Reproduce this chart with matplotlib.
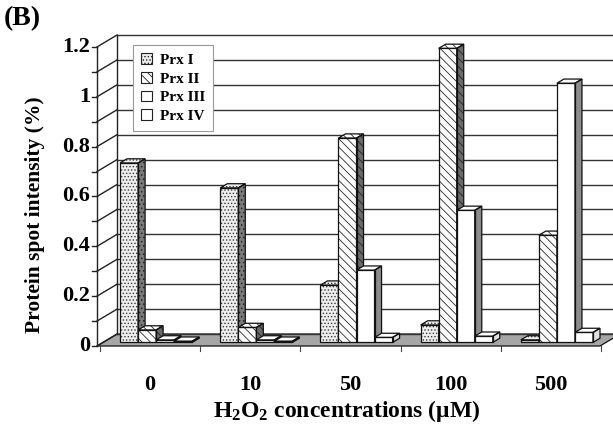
import matplotlib.pyplot as plt
from matplotlib.patches import Polygon, Patch

# data
concentrations = ['0', '10', '50', '100', '500']
series_names = ['Prx I', 'Prx II', 'Prx III', 'Prx IV']
prx1 = [0.72, 0.62, 0.23, 0.07, 0.01]
prx2 = [0.05, 0.06, 0.82, 1.18, 0.43]
prx3 = [0.01, 0.01, 0.29, 0.53, 1.04]
prx4 = [0.005, 0.005, 0.02, 0.025, 0.04]
yticks = [0, 0.2, 0.4, 0.6, 0.8, 1.0, 1.2]
ytick_labels = ['0', '0.2', '0.4', '0.6', '0.8', '1', '1.2']

series = [prx1, prx2, prx3, prx4]

# styles: (front face, hatch, side face, side hatch, hatch colour)
styles = [
    ('#eeeeee', '.....', '#7a7a7a', '....', '#3a3a3a'),
    ('#ffffff', '\\\\\\\\', '#6a6a6a', '\\\\\\\\', '#2a2a2a'),
    ('#ffffff', '', '#8c8c8c', '', '#cccccc'),
    ('#ffffff', '', '#e0e0e0', '', '#999999'),
]

# fake 3d depth (oblique projection), in data units
DX = 0.2
DY = 0.048
X0 = -0.03          # front left edge of the walls
D0, D1 = 0.3, 0.65  # depth range of the bars
BW = 0.18           # bar width

plt.rcParams['font.family'] = 'Liberation Serif'
plt.rcParams['font.weight'] = 'bold'
plt.rcParams['mathtext.fontset'] = 'custom'
plt.rcParams['mathtext.rm'] = 'Liberation Serif:bold'
plt.rcParams['mathtext.it'] = 'Liberation Serif:bold'
plt.rcParams['mathtext.bf'] = 'Liberation Serif:bold'
plt.rcParams['hatch.linewidth'] = 0.6

fig = plt.figure(figsize=(6.13, 4.30), dpi=100)
ax = fig.add_axes([0, 0, 1, 1])
ax.set_xlim(-100 / 100.2, 513 / 100.2)
ax.set_ylim(-84 / 249.2, 346 / 249.2)
ax.axis('off')


def pr(x, y, d):
    return (x + d * DX, y + d * DY)


def face(pts, fc, hatch, hc, z):
    ax.add_patch(Polygon(pts, closed=True, facecolor=fc, hatch=hatch,
                         edgecolor=hc, linewidth=0, zorder=z))
    ax.add_patch(Polygon(pts, closed=True, fill=False, edgecolor='#111111',
                         linewidth=0.9, zorder=z + 0.1))


# floor
floor = [pr(X0, 0, 0), pr(4.99, 0, 0), pr(4.99, 0, 1), pr(X0, 0, 1)]
face(floor, '#a6a6a6', '', '#a6a6a6', 1)

# walls and gridlines
for k in range(13):
    v = k * 0.1
    xa, ya = pr(X0, v, 0)
    xb, yb = pr(X0, v, 1)
    ax.plot([xa, xb], [ya, yb], color='#222222', lw=1.0, zorder=1.5)
    ax.plot([xb, 5.2], [yb, yb], color='#333333', lw=1.0, zorder=1.5)
    ax.plot([xa - 0.05, xa], [ya, ya], color='#222222', lw=1.0, zorder=1.5)
ax.plot([X0, X0], [0, 1.2], color='#222222', lw=1.0, zorder=1.6)
bx, by = pr(X0, 0, 1)
ax.plot([bx, bx], [by, by + 1.2], color='#222222', lw=1.0, zorder=1.6)

# category ticks under the floor
for i in range(len(concentrations) + 1):
    ax.plot([i, i], [0, -0.022], color='#444444', lw=0.8, zorder=1.5)

# bars
for i in range(len(concentrations)):
    left = i + 0.5 - 2 * BW
    for j, vals in enumerate(series):
        fc, h1, sc, h2, hc = styles[j]
        h = vals[i]
        x0 = left + j * BW
        x1 = x0 + BW
        z = 3 + i + j * 0.2
        side = [pr(x1, 0, D0), pr(x1, 0, D1), pr(x1, h, D1), pr(x1, h, D0)]
        top = [pr(x0, h, D0), pr(x1, h, D0), pr(x1, h, D1), pr(x0, h, D1)]
        front = [pr(x0, 0, D0), pr(x1, 0, D0), pr(x1, h, D0), pr(x0, h, D0)]
        face(side, sc, h2, hc if j > 1 else '#222222', z)
        face(top, fc, h1, hc, z)
        face(front, fc, h1, hc, z + 0.05)

# tick labels
for v, lab in zip(yticks, ytick_labels):
    ax.text(X0 - 0.07, v, lab, ha='right', va='center', fontsize=16,
            fontweight='bold')
for i, lab in enumerate(concentrations):
    ax.text(i + 0.5, -0.157, lab, ha='center', va='center', fontsize=16,
            fontweight='bold')

ax.text(0.057, 0.5, 'Protein spot intensity (%)', transform=fig.transFigure,
        rotation=90, ha='center', va='center', fontsize=15.5, fontweight='bold')
ax.text(0.565, 0.045, 'H$_2$O$_2$ concentrations (\u03bcM)',
        transform=fig.transFigure, ha='center', va='center', fontsize=17,
        fontweight='bold')
ax.text(0.006, 0.985, '(B)', transform=fig.transFigure, ha='left', va='top',
        fontsize=20, fontweight='bold')

# legend
handles = [Patch(facecolor=s[0], hatch=s[1], edgecolor='#222222', linewidth=0.8)
           for s in styles]
leg = ax.legend(handles, series_names, loc='upper left',
                bbox_to_anchor=(133 / 613, 1 - 45 / 430),
                bbox_transform=fig.transFigure, borderaxespad=0,
                fancybox=False, framealpha=1, edgecolor='#999999',
                handlelength=0.7, handleheight=0.7, handletextpad=0.5,
                labelspacing=0.32, borderpad=0.55,
                prop={'family': 'Liberation Serif', 'weight': 'bold', 'size': 11})
leg.get_frame().set_linewidth(0.8)
leg.set_zorder(20)

fig.savefig('out.png', dpi=100)
